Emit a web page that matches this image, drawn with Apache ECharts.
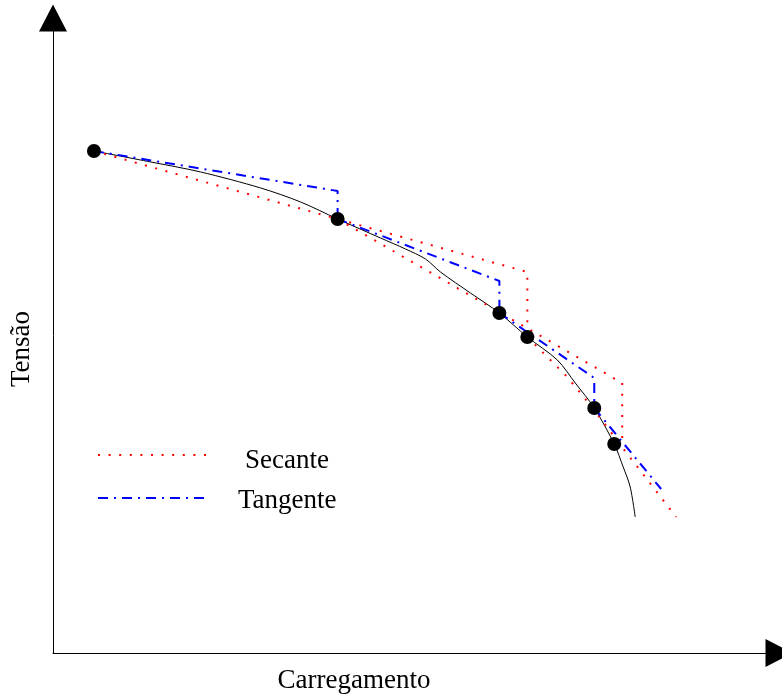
<!DOCTYPE html>
<html>
<head>
<meta charset="utf-8">
<title>Secante e Tangente</title>
<script src="https://cdn.jsdelivr.net/npm/echarts@6/dist/echarts.min.js"></script>
<style>
  html, body { margin: 0; padding: 0; background: #fff; }
  #chart { width: 782px; height: 700px; }
</style>
</head>
<body>
<div id="chart"></div>
<script>
// Load–stress path (x = carregamento, y = tensão), arbitrary units
const curva = [
  [41, 502], [98, 491], [148, 481], [208, 465], [248, 451], [285, 434],
  [328, 415], [353, 404], [373, 394], [388, 381], [418, 360], [447, 340],
  [475, 316], [505, 293], [523, 270], [542, 245], [562, 209], [571, 186],
  [578, 166], [583, 136]
];

// Equilibrium points found along the path
const pontos = [[41, 502], [285, 434], [447, 340], [475, 316], [542, 245], [562, 209]];

// Secant iterations
const secante1 = [[41, 502], [475, 381], [475, 316]];
const secante2 = [[285, 434], [570, 270], [570, 209]];
const secante3 = [[475, 316], [515, 276], [542, 243], [569, 207], [624, 136]];

// Tangent iterations
const tangente1 = [[41, 502], [285, 462], [285, 434]];
const tangente2 = [[285, 434], [447, 372], [447, 340]];
const tangente3 = [[447, 340], [542, 275], [542, 245]];
const tangente4 = [[542, 245], [609, 164]];

const nomeX = 'Carregamento';
const nomeY = 'Tensão';
const legendaNomes = ['Secante', 'Tangente'];

const serif = '"Liberation Serif", "Times New Roman", serif';
const dotted = [2, 8.6];
const dashDot = [10, 6, 2, 6];

function segment(name, data, color, dash) {
  return {
    name: name,
    type: 'line',
    data: data,
    symbol: 'none',
    showSymbol: false,
    silent: true,
    animation: false,
    z: 3,
    lineStyle: { color: color, width: 2, type: dash, cap: 'butt' }
  };
}

const chart = echarts.init(document.getElementById('chart'), null, { renderer: 'canvas' });

chart.setOption({
  backgroundColor: '#fff',
  animation: false,
  grid: { left: 52, right: 3, top: 18, bottom: 47, containLabel: false },
  xAxis: {
    type: 'value', min: 0, max: 727,
    name: nomeX, nameLocation: 'middle', nameGap: 14,
    nameTextStyle: { fontFamily: serif, fontSize: 27, color: '#000', padding: [0, 124, 0, 0] },
    axisLine: { show: true, symbol: ['none', 'triangle'], symbolSize: [28, 27], lineStyle: { color: '#000', width: 1 } },
    axisTick: { show: false }, axisLabel: { show: false }, splitLine: { show: false }
  },
  yAxis: {
    type: 'value', min: 0, max: 635,
    name: nomeY, nameLocation: 'middle', nameGap: 18, nameRotate: 90,
    nameTextStyle: { fontFamily: serif, fontSize: 27, color: '#000', padding: [0, 27, 0, 0] },
    axisLine: { show: true, symbol: ['none', 'triangle'], symbolSize: [28, 27], lineStyle: { color: '#000', width: 1 } },
    axisTick: { show: false }, axisLabel: { show: false }, splitLine: { show: false }
  },
  legend: [
    {
      data: [legendaNomes[0]], left: 97, top: 431, padding: 0,
      itemWidth: 108, itemHeight: 60, selectedMode: false,
      itemStyle: { opacity: 0 },
      lineStyle: { color: '#ff0000', width: 2, type: dotted, cap: 'butt' },
      // blank first line pushes the label slightly below the sample line
      formatter: '\n{name}',
      textStyle: { fontFamily: serif, fontSize: 27, color: '#000', lineHeight: 12, padding: [0, 0, 0, 34] }
    },
    {
      data: [legendaNomes[1]], left: 97, top: 474, padding: 0,
      itemWidth: 106, itemHeight: 60, selectedMode: false,
      itemStyle: { opacity: 0 },
      lineStyle: { color: '#0000ff', width: 2, type: dashDot, cap: 'butt' },
      formatter: '\n{name}',
      textStyle: { fontFamily: serif, fontSize: 27, color: '#000', lineHeight: 5, padding: [0, 0, 0, 29] }
    }
  ],
  series: [
    {
      name: 'Curva', type: 'line', data: curva, smooth: 0.3,
      symbol: 'none', showSymbol: false, silent: true, z: 2,
      lineStyle: { color: '#000', width: 1 }
    },
    segment(legendaNomes[0], secante1, '#ff0000', dotted),
    segment(legendaNomes[0], secante2, '#ff0000', dotted),
    segment(legendaNomes[0], secante3, '#ff0000', dotted),
    segment(legendaNomes[1], tangente1, '#0000ff', dashDot),
    segment(legendaNomes[1], tangente2, '#0000ff', dashDot),
    segment(legendaNomes[1], tangente3, '#0000ff', dashDot),
    segment(legendaNomes[1], tangente4, '#0000ff', dashDot),
    {
      name: 'Pontos', type: 'scatter', data: pontos,
      symbol: 'circle', symbolSize: 14, silent: true, z: 4,
      itemStyle: { color: '#000', opacity: 1 }
    }
  ]
});
</script>
</body>
</html>
